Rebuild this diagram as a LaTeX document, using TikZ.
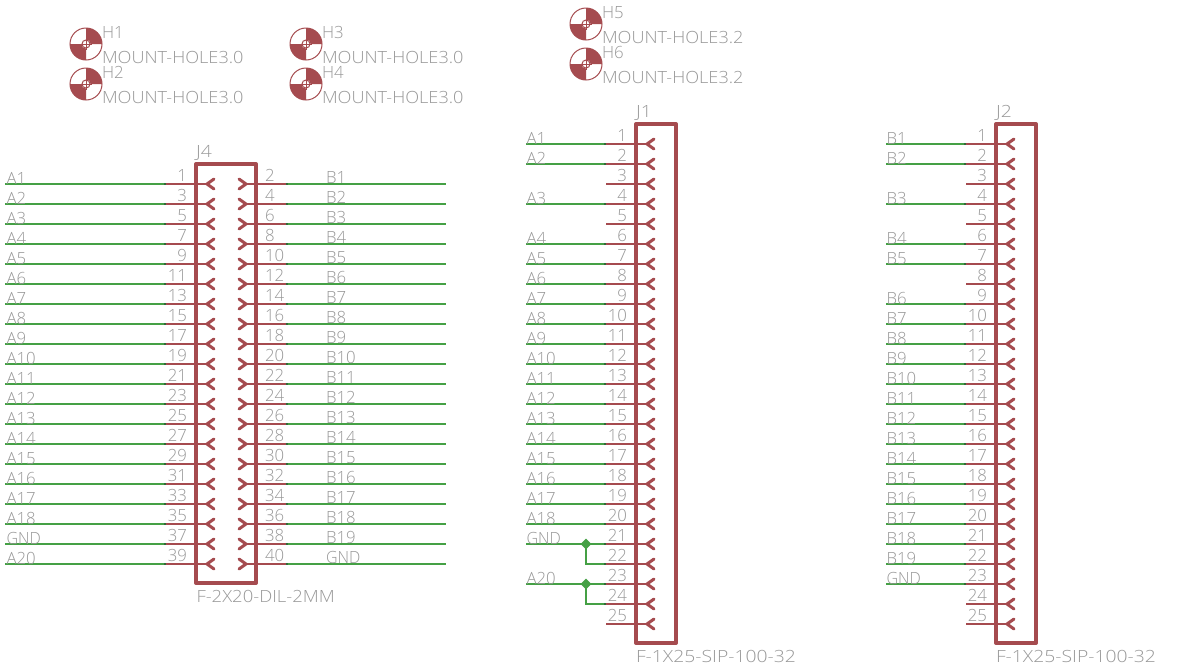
\documentclass[tikz,border=0pt]{standalone}
\usepackage{fontspec}
\setmainfont{Open Sans Light}
\newfontfamily\fGnd{Open Sans Light}[FakeStretch=0.95]
\newfontfamily\fMount{Open Sans Light}[FakeStretch=1.08]
\newfontfamily\fVal{Open Sans Light}[FakeStretch=1.15]
\newfontfamily\fValB{Open Sans Light}[FakeStretch=1.1]
\newfontfamily\fRef{Open Sans Light}[FakeStretch=1.15]
\definecolor{sym}{HTML}{A54B4F}
\definecolor{net}{HTML}{45A045}
\definecolor{netd}{HTML}{2E6B3A}
\definecolor{txt}{HTML}{989898}
\usetikzlibrary{calc,shapes.geometric}
\tikzset{
  x=1pt,y=-1pt,
  body/.style={draw=sym,line width=4pt,inner sep=0pt,outer sep=0pt,line join=round},
  pinline/.style={draw=sym,line width=2pt},
  chevron/.style={draw=sym,line width=3pt,line cap=round,line join=miter},
  wire/.style={draw=net,line width=2pt},
  junct/.style={diamond,fill=net,inner sep=0pt,minimum size=11pt},
  lab/.style={text=txt,font=\fontsize{16.8}{17}\selectfont,inner sep=0pt,outer sep=0pt,anchor=base west},
  labr/.style={text=txt,font=\fontsize{16.8}{17}\selectfont,inner sep=0pt,outer sep=0pt,anchor=base east},
}
\newcommand{\pinL}[4]{%
  \coordinate (#1s#2) at (#3-30,#4);
  \coordinate (#1t#2) at (#3+11,#4);
  \draw[pinline] (#1s#2) -- (#1t#2);
  \draw[chevron] (#3+18,#4-5) -- (#1t#2) -- (#3+18,#4+5);
  \node[labr] (#1n#2) at (#3-9,#4-3) {#2};
}
\newcommand{\pinR}[4]{%
  \coordinate (#1s#2) at (#3+30,#4);
  \coordinate (#1t#2) at (#3-10,#4);
  \draw[pinline] (#1s#2) -- (#1t#2);
  \draw[chevron] (#3-17,#4-5) -- (#1t#2) -- (#3-17,#4+5);
  \node[lab] (#1n#2) at (#3+9,#4-3) {#2};
}
\newcommand{\wireL}[2]{%
  \draw[wire] (#1) -- (#2);
  \draw[netd,line width=2pt] ($(#2)+(-2,0)$) -- (#2);
}
\newcommand{\wireR}[2]{%
  \draw[wire] (#1) -- (#2);
  \draw[netd,line width=2pt] (#1) -- ($(#1)+(2,0)$);
}
\newcommand{\hole}[3]{%
  \coordinate (#1) at (#2,#3);
  \fill[sym] (#1) -- ++(16,0) arc[start angle=0,end angle=-90,radius=16] -- cycle;
  \fill[sym] (#1) -- ++(-16,0) arc[start angle=180,end angle=90,radius=16] -- cycle;
  \draw[sym,line width=1pt] (#1) circle[radius=16];
  \fill[white] (#1) circle[radius=4.5];
  \draw[sym,line width=1pt] (#1) circle[radius=4];
  \draw[sym,line width=1pt] ($(#1)+(-6,0)$) -- ($(#1)+(6,0)$) ($(#1)+(0,-6)$) -- ($(#1)+(0,6)$);
  \node[lab] (#1t) at (#2+16,#3-6) {#1};
}
\begin{document}
\begin{tikzpicture}
\useasboundingbox (0,0) rectangle (1199,670);
\fill[white] (0,0) rectangle (1199,670);
\foreach \n/\x/\y/\v in {H1/86/44/3.0,H2/86/84/3.0,H3/306/44/3.0,H4/306/84/3.0,H5/586/24/3.2,H6/586/64/3.2}{
  \hole{\n}{\x}{\y}
  \node[lab,font=\fontsize{16.8}{17}\fMount] (\n v) at (\x+16,\y+19) {MOUNT-HOLE\v};
}
% J4
\foreach \k/\a/\b in {0/A1/B1,1/A2/B2,2/A3/B3,3/A4/B4,4/A5/B5,5/A6/B6,6/A7/B7,7/A8/B8,8/A9/B9,9/A10/B10,10/A11/B11,11/A12/B12,12/A13/B13,13/A14/B14,14/A15/B15,15/A16/B16,16/A17/B17,17/A18/B18,18/\fGnd GND/B19,19/A20/\fGnd GND}{
  \pgfmathtruncatemacro{\y}{184+20*\k}
  \pgfmathtruncatemacro{\nl}{2*\k+1}
  \pgfmathtruncatemacro{\nr}{2*\k+2}
  \coordinate (Wl\nl) at (5,\y);
  \coordinate (Wr\nr) at (446,\y);
  \pinL{P}{\nl}{196}{\y}
  \pinR{P}{\nr}{256}{\y}
  \wireL{Wl\nl}{Ps\nl}
  \wireR{Ps\nr}{Wr\nr}
  \node[lab] (La\nl) at (6.5,\y) {\a};
  \node[lab] (Lb\nr) at (326,\y-1) {\b};
}
\node[body,minimum width=60pt,minimum height=419pt,anchor=north west] (J4) at (196,164) {};
\node[lab,font=\fontsize{16.8}{17}\fRef] (J4t) at (196,157) {J4};
\node[lab,font=\fontsize{16.8}{17}\fValB] (J4v) at (196.5,602) {F-2X20-DIL-2MM};
% J1
\foreach \n in {1,...,25}{
  \pgfmathtruncatemacro{\y}{144+20*(\n-1)}
  \pinL{Q}{\n}{636}{\y}
}
\foreach \n/\s in {1/A1,2/A2,4/A3,6/A4,7/A5,8/A6,9/A7,10/A8,11/A9,12/A10,13/A11,14/A12,15/A13,16/A14,17/A15,18/A16,19/A17,20/A18,21/\fGnd GND,23/A20}{
  \pgfmathtruncatemacro{\y}{144+20*(\n-1)}
  \coordinate (X\n) at (526,\y);
  \wireL{X\n}{Qs\n}
  \node[lab] (Xl\n) at (526.5,\y) {\s};
}
\node[junct] (JA) at (586,544) {};
\node[junct] (JB) at (586,584) {};
\draw[wire] (JA.center) |- (Qs22);
\draw[wire] (JB.center) |- (Qs24);
\draw[netd,line width=2pt] ($(Qs22)+(-2,0)$) -- (Qs22);
\draw[netd,line width=2pt] ($(Qs24)+(-2,0)$) -- (Qs24);
\node[body,minimum width=40pt,minimum height=519pt,anchor=north west] (J1) at (636,124) {};
\node[lab,font=\fontsize{16.8}{17}\fRef] (J1t) at (636,117) {J1};
\node[lab,font=\fontsize{16.8}{17}\fVal] (J1v) at (636,662) {F-1X25-SIP-100-32};
% J2
\foreach \n in {1,...,25}{
  \pgfmathtruncatemacro{\y}{144+20*(\n-1)}
  \pinL{R}{\n}{996}{\y}
}
\foreach \n/\s in {1/B1,2/B2,4/B3,6/B4,7/B5,9/B6,10/B7,11/B8,12/B9,13/B10,14/B11,15/B12,16/B13,17/B14,18/B15,19/B16,20/B17,21/B18,22/B19,23/\fGnd GND}{
  \pgfmathtruncatemacro{\y}{144+20*(\n-1)}
  \coordinate (Y\n) at (886,\y);
  \wireL{Y\n}{Rs\n}
  \node[lab] (Yl\n) at (886.5,\y) {\s};
}
\node[body,minimum width=40pt,minimum height=519pt,anchor=north west] (J2) at (996,124) {};
\node[lab,font=\fontsize{16.8}{17}\fRef] (J2t) at (996,117) {J2};
\node[lab,font=\fontsize{16.8}{17}\fVal] (J2v) at (996,662) {F-1X25-SIP-100-32};
\end{tikzpicture}
\end{document}
